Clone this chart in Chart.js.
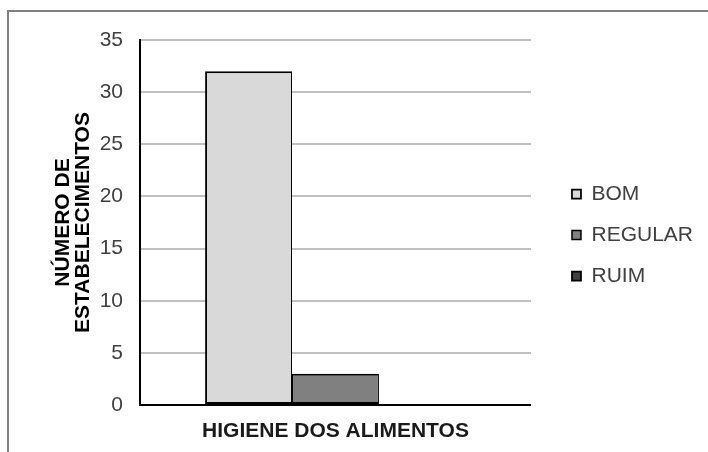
<!DOCTYPE html>
<html>
<head>
<meta charset="utf-8">
<script src="https://cdn.jsdelivr.net/npm/chart.js@4"></script>
<style>
    html, body { margin: 0; padding: 0; background: #fff; }
    #wrap { position: relative; width: 708px; height: 452px; overflow: hidden; }
    #frame {
        position: absolute; left: 7px; top: 10px; width: 760px; height: 500px;
        border-left: 2px solid #808080; border-top: 2px solid #808080;
    }
    #c { position: absolute; left: 0; top: 0; }
</style>
</head>
<body>
<div id="wrap">
    <div id="frame"></div>
    <canvas id="c" width="708" height="452"></canvas>
</div>
<script>
// Chart data
const categorias = ['HIGIENE DOS ALIMENTOS'];
const series = ['BOM', 'REGULAR', 'RUIM'];
const valores = [[32], [3], [0]];
const cores = ['#d9d9d9', '#808080', '#404040'];
const yTicks = [0, 5, 10, 15, 20, 25, 30, 35];
const yTitulo = ['NÚMERO DE', 'ESTABELECIMENTOS'];

const fonte = 'Liberation Sans, Arial, sans-serif';

// Border sides so neighbouring bars share one 2px line
const bordas = [
    { top: 2, left: 2, right: 1, bottom: 2 },
    { top: 2, left: 1, right: 1, bottom: 2 },
    { top: 2, left: 1, right: 2, bottom: 2 }
];

const ctx = document.getElementById('c').getContext('2d');

new Chart(ctx, {
    type: 'bar',
    data: {
        labels: categorias,
        datasets: series.map((nome, i) => ({
            label: nome,
            data: valores[i],
            backgroundColor: cores[i],
            borderColor: '#000',
            borderWidth: bordas[i],
            borderSkipped: false,
            categoryPercentage: 0.667,
            barPercentage: 1
        }))
    },
    options: {
        responsive: false,
        animation: false,
        layout: {
            padding: { top: 18, right: 5, bottom: 0, left: 0 }
        },
        plugins: {
            title: {
                display: true,
                text: '',
                padding: 0,
                font: { size: 22, lineHeight: 1 }
            },
            legend: {
                position: 'right',
                maxWidth: 220,
                labels: {
                    color: '#404040',
                    boxWidth: 9,
                    boxHeight: 9,
                    padding: 20,
                    font: { family: fonte, size: 21 }
                }
            },
            tooltip: { enabled: false }
        },
        scales: {
            x: {
                grid: { display: false, drawTicks: false },
                border: { display: true, color: '#000', width: 2 },
                ticks: {
                    color: '#1a1a1a',
                    padding: 14,
                    font: { family: fonte, size: 21, weight: 'bold' }
                },
                afterFit: (scale) => { scale.height = 47; }
            },
            y: {
                min: 0,
                max: 35,
                afterBuildTicks: (scale) => {
                    scale.ticks = yTicks.map(v => ({ value: v }));
                },
                grid: {
                    drawTicks: false,
                    lineWidth: 2,
                    color: (c) => c.tick && c.tick.value === 0 ? 'rgba(0,0,0,0)' : '#c0c0c0'
                },
                border: { display: true, color: '#000', width: 2 },
                ticks: {
                    color: '#404040',
                    padding: 17,
                    font: { family: fonte, size: 21 }
                },
                title: {
                    display: true,
                    text: yTitulo,
                    color: '#000',
                    padding: { top: 53, bottom: 0 },
                    font: { family: fonte, size: 21, weight: 'bold', lineHeight: '20px' }
                },
                afterFit: (scale) => { scale.width = 140; }
            },
            // empty axis, only keeps the gap before the legend
            gap: {
                type: 'linear',
                position: 'right',
                grid: { display: false },
                border: { display: false },
                ticks: { display: false },
                afterFit: (scale) => { scale.width = 21; }
            }
        }
    }
});
</script>
</body>
</html>
